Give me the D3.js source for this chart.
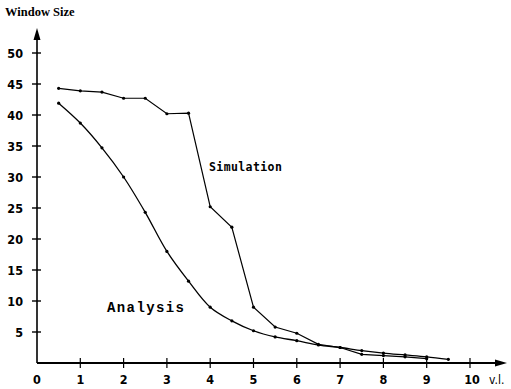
<!DOCTYPE html>
<html>
<head>
<meta charset="utf-8">
<script src="https://cdn.jsdelivr.net/npm/d3@7"></script>
<style>
  body { margin: 0; background: #fff; }
  svg { display: block; }
  .tick-label { font-family: "Liberation Sans Narrow", "DejaVu Sans Condensed", sans-serif; font-weight: bold; font-size: 12.5px; }
</style>
</head>
<body>
<svg id="chart" width="511" height="389"></svg>
<script>
// values
const simX = [0.5, 1, 1.5, 2, 2.5, 3, 3.5, 4, 4.5, 5, 5.5, 6, 6.5, 7, 7.5, 8, 8.5, 9];
const simY = [44.3, 43.9, 43.7, 42.7, 42.7, 40.2, 40.3, 25.2, 21.9, 9.0, 5.8, 4.8, 3.0, 2.5, 1.4, 1.2, 1.0, 0.7];
const anaX = [0.5, 1, 1.5, 2, 2.5, 3, 3.5, 4, 4.5, 5, 5.5, 6, 6.5, 7, 7.5, 8, 8.5, 9, 9.5];
const anaY = [41.9, 38.7, 34.7, 30.0, 24.3, 18.0, 13.2, 9.0, 6.8, 5.2, 4.2, 3.6, 2.9, 2.5, 2.0, 1.6, 1.3, 1.0, 0.6];
const xTicks = [0, 1, 2, 3, 4, 5, 6, 7, 8, 9, 10];
const yTicks = [5, 10, 15, 20, 25, 30, 35, 40, 45, 50];

const svg = d3.select('#chart');

const x = d3.scaleLinear().domain([0, 10]).range([37, 470]);
const y = d3.scaleLinear().domain([0, 50]).range([363, 53]);

const sim = simX.map((d, i) => ({ x: d, y: simY[i] }));
const ana = anaX.map((d, i) => ({ x: d, y: anaY[i] }));

// axes
svg.append('line')
    .attr('x1', x(0)).attr('y1', y(0))
    .attr('x2', x(0)).attr('y2', 36)
    .attr('stroke', '#000').attr('stroke-width', 1.6);
svg.append('path')
    .attr('d', `M${x(0)},28 L${x(0) - 3.5},40 L${x(0) + 3.5},40 Z`)
    .attr('fill', '#000');

svg.append('line')
    .attr('x1', x(0)).attr('y1', y(0))
    .attr('x2', 498).attr('y2', y(0))
    .attr('stroke', '#000').attr('stroke-width', 1.8);
svg.append('path')
    .attr('d', `M507,${y(0)} L495,${y(0) - 3.5} L495,${y(0) + 3.5} Z`)
    .attr('fill', '#000');

// y ticks
svg.selectAll('.ytick')
    .data(yTicks)
    .join('line')
    .attr('class', 'ytick')
    .attr('x1', x(0) - 5).attr('x2', x(0) + 4)
    .attr('y1', d => y(d)).attr('y2', d => y(d))
    .attr('stroke', '#000').attr('stroke-width', 1.4);

svg.selectAll('.ylabel')
    .data(yTicks)
    .join('text')
    .attr('class', 'tick-label')
    .attr('x', 23)
    .attr('y', d => y(d) + 4.5)
    .attr('text-anchor', 'end')
    .text(d => d);

// x ticks
svg.selectAll('.xtick')
    .data(xTicks.slice(1))
    .join('line')
    .attr('class', 'xtick')
    .attr('x1', d => x(d)).attr('x2', d => x(d))
    .attr('y1', y(0) - 5).attr('y2', y(0) + 5)
    .attr('stroke', '#000').attr('stroke-width', 1.2);

svg.selectAll('.xlabel')
    .data(xTicks)
    .join('text')
    .attr('class', 'tick-label')
    .attr('x', d => x(d) + (d === 10 ? 2 : 0))
    .attr('y', 384)
    .attr('text-anchor', 'middle')
    .text(d => d);

svg.append('text')
    .attr('class', 'tick-label')
    .attr('x', 489).attr('y', 384)
    .style('font-size', '12px')
    .style('font-weight', 'normal')
    .text('v.l.');

// title
svg.append('text')
    .attr('x', 5).attr('y', 16)
    .style('font-family', '"Liberation Serif", serif')
    .style('font-weight', 'bold')
    .style('font-size', '12.5px')
    .text('Window Size');

// lines
svg.append('path')
    .datum(ana)
    .attr('fill', 'none')
    .attr('stroke', '#000')
    .attr('stroke-width', 1.3)
    .attr('d', d3.line().x(d => x(d.x)).y(d => y(d.y)).curve(d3.curveCatmullRom));

svg.append('path')
    .datum(sim)
    .attr('fill', 'none')
    .attr('stroke', '#000')
    .attr('stroke-width', 1.2)
    .attr('d', d3.line().x(d => x(d.x)).y(d => y(d.y)));

svg.selectAll('.pt')
    .data(sim.concat(ana))
    .join('circle')
    .attr('class', 'pt')
    .attr('cx', d => x(d.x))
    .attr('cy', d => y(d.y))
    .attr('r', 1.6)
    .attr('fill', '#000');

// series labels
svg.append('text')
    .attr('x', 209).attr('y', 171)
    .style('font-family', '"DejaVu Sans Mono", monospace')
    .style('font-weight', 'bold')
    .style('font-size', '11.5px')
    .style('letter-spacing', '0.4px')
    .text('Simulation');

svg.append('text')
    .attr('x', 107).attr('y', 312)
    .style('font-family', '"Liberation Mono", monospace')
    .style('font-weight', 'bold')
    .style('font-size', '14px')
    .style('letter-spacing', '1.4px')
    .text('Analysis');
</script>
</body>
</html>
